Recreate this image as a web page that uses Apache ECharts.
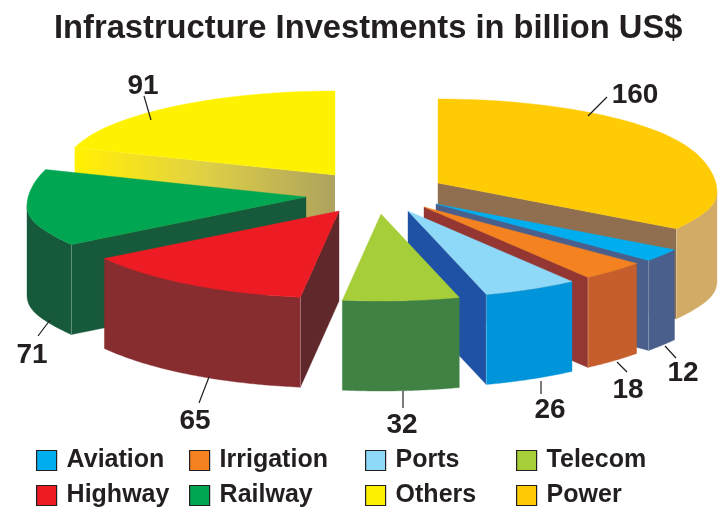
<!DOCTYPE html>
<html>
<head>
<meta charset="utf-8">
<style>html,body{margin:0;padding:0;background:#fff}#c{width:722px;height:507px}</style>
<script src="https://cdn.jsdelivr.net/npm/echarts@6/dist/echarts.min.js"></script>
</head>
<body>
<div id="c"></div>
<script>
// Data, clockwise from 12 o'clock
var categories = ['Power', 'Aviation', 'Irrigation', 'Ports', 'Telecom', 'Highway', 'Railway', 'Others'];
var investments = [160, 12, 18, 26, 32, 65, 71, 91];
var legendNames = ['Aviation', 'Irrigation', 'Ports', 'Telecom', 'Highway', 'Railway', 'Others', 'Power'];

// Styles and layout
var topColors = ['#ffcb05', '#00aeef', '#f58220', '#8ed8f8', '#a6ce39', '#ed1c24', '#00a651', '#fff200'];
var outerColors = ['#d2ab67', '#4a5f8c', '#c55e2c', '#0095da', '#3f8244', '#872c2f', '#17593b', '#b3a65a'];
var radialColors = ['#8f6f4f', '#4a5f8c', '#943632', '#1f52a5', '#3f8244', '#60282b', '#17593b', null];
var apexX = [438, 436, 424, 408, 381, 339, 306, 335];
var apexY = [183, 204, 207, 211, 214, 211, 197, 175];
var labelX = [635, 683, 628, 550, 402, 195, 32, 143];
var labelY = [95, 373, 390, 410, 425, 421, 355, 86];
var leaders = [[588,116,607,97],[665,346,676,358],[617,362,627,372],[541,381,541,394],[403,391,403,408],[209,377,199,403],[50,320,38,336],[151,120,144,96]];
var drawOrder = [7, 0, 6, 1, 2, 3, 5, 4];
var legendLeft = [36, 189, 365, 516];
var legendTop = [448, 483];
var RX = 279, RY_TOP = 84, RY_BOTTOM = 87, RIM_SAG = 8, DEPTH = 90, INK = '#231f20';

var total = investments.reduce(function (a, b) { return a + b; }, 0);
var startAngles = [];
investments.reduce(function (acc, v, i) { startAngles[i] = acc; return acc + v; }, 0);

function rimPoint(i, deg) {
  var t = deg * Math.PI / 180, c = Math.cos(t), sn = Math.sin(t);
  var sag = RIM_SAG * Math.pow(Math.abs(sn), 16);
  return [apexX[i] + RX * sn, apexY[i] - (c > 0 ? RY_TOP : RY_BOTTOM) * c + sag];
}
function down(p) { return [p[0], p[1] + DEPTH]; }
function poly(points, fill) {
  return { type: 'polygon', shape: { points: points }, style: { fill: fill, stroke: typeof fill === 'string' ? fill : null, lineWidth: 0.4 }, silent: true };
}
function renderSlice(i, value) {
  var a0 = startAngles[i] / total * 360, a1 = a0 + value / total * 360;
  var apex = [apexX[i], apexY[i]], children = [];
  var rim = [];
  for (var s = 0; s <= 60; s++) rim.push(rimPoint(i, a0 + (a1 - a0) * s / 60));
  var p0 = rim[0], p1 = rim[60];
  var seams = [];

  // side wall on the clockwise end edge (right half of the pie)
  if (Math.sin(a1 * Math.PI / 180) > 0) {
    children.push(poly([apex, p1, down(p1), down(apex)], radialColors[i]));
    seams.push(p1);
  }
  // side wall on the start edge (left half of the pie)
  if (Math.sin(a0 * Math.PI / 180) < 0) {
    var fill = radialColors[i];
    if (!fill) {
      fill = { type: 'linear', x: 0, y: 0, x2: 1, y2: 0, colorStops: [
        { offset: 0, color: '#fff200' }, { offset: 0.1, color: '#fde910' },
        { offset: 0.5, color: '#dfd045' }, { offset: 1, color: '#ada25e' }] };
    }
    children.push(poly([apex, p0, down(p0), down(apex)], fill));
    seams.push(p0);
  }
  // outer curved wall where the rim faces the viewer
  var front = rim.filter(function (p, k) {
    var d = a0 + (a1 - a0) * k / 60;
    return Math.cos(d * Math.PI / 180) <= 0;
  });
  if (front.length > 1) {
    children.push(poly(front.concat(front.slice().reverse().map(down)), outerColors[i]));
  }
  seams.forEach(function (p) {
    children.push({ type: 'line', shape: { x1: p[0], y1: p[1], x2: p[0], y2: p[1] + DEPTH }, style: { stroke: 'rgba(255,255,255,0.4)', lineWidth: 0.7 }, silent: true });
  });
  // top face
  children.push(poly([apex].concat(rim), topColors[i]));
  // leader and value label
  var l = leaders[i];
  children.push({ type: 'line', shape: { x1: l[0], y1: l[1], x2: l[2], y2: l[3] }, style: { stroke: INK, lineWidth: 1.2 }, silent: true, z2: 20 });
  children.push({ type: 'text', z2: 21, silent: true, style: { x: labelX[i], y: labelY[i], text: String(value), fill: INK,
    font: 'bold 28px "Liberation Sans", Arial, sans-serif', align: 'center', verticalAlign: 'middle' } });
  return { type: 'group', children: children };
}

var series = drawOrder.map(function (i) {
  return {
    type: 'custom', name: categories[i], coordinateSystem: 'none',
    itemStyle: { color: topColors[i] }, silent: true, animation: false,
    data: [[investments[i]]],
    renderItem: function (params, api) { return renderSlice(i, api.value(0)); }
  };
});

var legends = legendNames.map(function (name, k) {
  return {
    left: legendLeft[k % 4], top: legendTop[Math.floor(k / 4)], padding: 0,
    itemWidth: 20, itemHeight: 20, icon: 'rect', selectedMode: false, data: [name],
    itemStyle: { borderColor: INK, borderWidth: 1.2 },
    textStyle: { color: INK, fontFamily: '"Liberation Sans", Arial, sans-serif', fontWeight: 'bold', fontSize: 25, lineHeight: 20, padding: [2, 0, 0, 5] }
  };
});

var chart = echarts.init(document.getElementById('c'), null, { renderer: 'canvas' });
chart.setOption({
  backgroundColor: '#ffffff',
  animation: false,
  title: {
    text: 'Infrastructure Investments in billion US$', left: 54, top: 12, padding: 0,
    textStyle: { color: INK, fontFamily: '"Liberation Sans", Arial, sans-serif', fontWeight: 'bold', fontSize: 32.7 }
  },
  legend: legends,
  series: series
});
</script>
</body>
</html>
